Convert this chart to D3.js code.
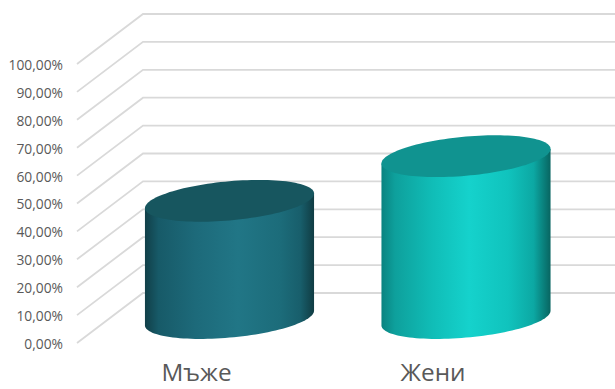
<!DOCTYPE html>
<html><head><meta charset="utf-8">
<script src="https://cdn.jsdelivr.net/npm/d3@7"></script>
<style>html,body{margin:0;padding:0;background:#fff;overflow:hidden}svg{display:block}</style>
</head><body><svg id="c" width="615" height="389"></svg>
<script>
const categories = ["Мъже", "Жени"];
const values = [42, 58];
const tickValues = [0,10,20,30,40,50,60,70,80,90,100];
const barColors = [
  {top:"#17565f", stops:[["0%","#113f48"],["8%","#175a68"],["30%","#1d6a7a"],["55%","#217686"],["80%","#1c6c7a"],["92%","#185e6b"],["100%","#103c43"]]},
  {top:"#109390", stops:[["0%","#0a8380"],["8%","#0ea09c"],["30%","#10bdb7"],["52%","#15d2cc"],["75%","#10c3bd"],["90%","#0ca8a3"],["100%","#086561"]]}
];
const W=615,H=389;
const front={x0:78.25,x1:551.25,y0:343,y1:64,gridX:77}, depth={dx:66,dy:-50};
const svg=d3.select("#c");
const yFront=d3.scaleLinear().domain([0,100]).range([front.y0,front.y1]);
const yAt=(v,t)=>yFront(v)+depth.dy*t;
const xFront=d3.scaleBand().domain(categories).range([front.x0,front.x1]);
const xMid=c=>xFront(c)+xFront.bandwidth()/2+depth.dx/2;
const barFrac=0.715, shear=7.3, ky=19.6;
const defs=svg.append("defs");
categories.forEach((c,i)=>{
  const g=defs.append("linearGradient").attr("id","g"+i).attr("x1","0").attr("x2","1").attr("y1","0").attr("y2","0");
  barColors[i].stops.forEach(s=>g.append("stop").attr("offset",s[0]).attr("stop-color",s[1]));
});
const grid=svg.append("g").attr("fill","none").attr("stroke","#d9d9d9").attr("stroke-width",1.8);
grid.selectAll("path").data(tickValues).join("path")
  .attr("d",v=>d3.line()([[front.gridX,yFront(v)],[front.gridX+depth.dx,yAt(v,1)],[W,yAt(v,1)]]));
const yAxis=svg.append("g").attr("transform","translate(70,1)")
  .call(d3.axisLeft(yFront).tickValues(tickValues).tickSize(0).tickPadding(7).tickFormat(v=>v.toFixed(2).replace(".",",")+"%"));
yAxis.select(".domain").remove();
yAxis.selectAll("text").attr("font-family","'Open Sans'").attr("font-size",13.8).attr("fill","#595959");
const line=d3.line();
categories.forEach((c,i)=>{
  const cx=xMid(c), a=xFront.bandwidth()*barFrac/2;
  const yb=yAt(0,0.5), yt=yAt(values[i],0.5);
  const pt=(t,y)=>[cx+a*Math.cos(t), y-shear*Math.cos(t)+ky*Math.sin(t)];
  const angles=d3.range(0,181,3).map(d=>d*Math.PI/180);
  const sideBottom=angles.map(t=>pt(t,yb));
  svg.append("path").attr("d",line(sideBottom.concat([pt(Math.PI,yt),pt(0,yt)]))+"Z").attr("fill",`url(#g${i})`);
  const all=d3.range(0,360,3).map(d=>pt(d*Math.PI/180,yt));
  svg.append("path").attr("d",line(all)+"Z").attr("fill",barColors[i].top);
});
const xAxis=svg.append("g").attr("transform","translate(0,364)").call(d3.axisBottom(xFront).tickSize(0).tickPadding(0));
xAxis.select(".domain").remove();
xAxis.selectAll("text").attr("font-family","'Open Sans'").attr("font-size",24.3).attr("fill","#595959");
</script></body></html>
